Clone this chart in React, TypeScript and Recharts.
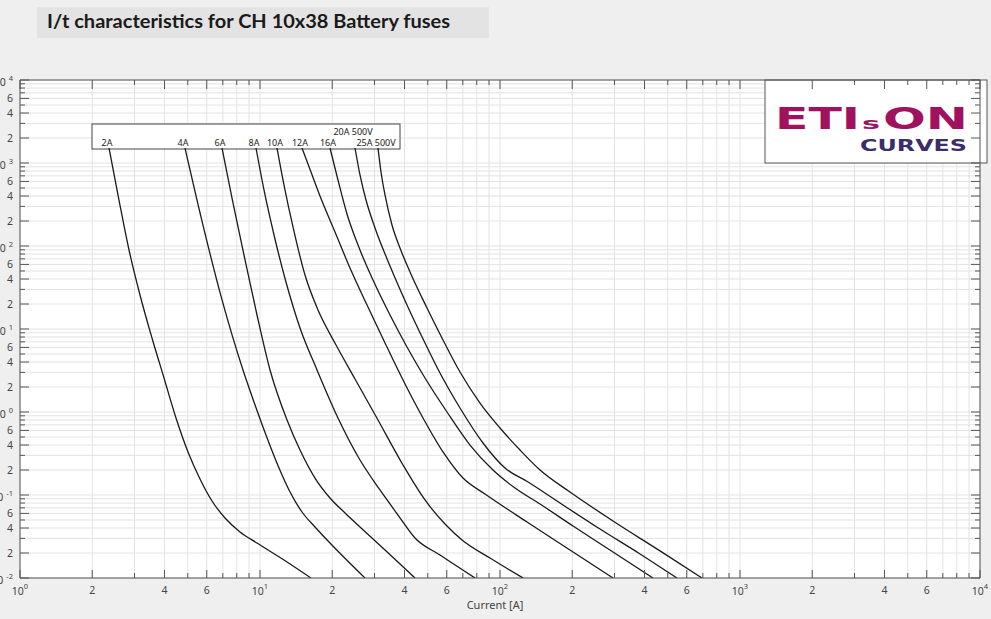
import React from 'react';
import { LineChart, Line, XAxis, YAxis, CartesianGrid, Customized } from 'recharts';

const W = 991;
const H = 619;

// Current [A] / time [s] pairs
const fuse2A: [number, number][] = [[2.349, 1516], [2.585, 358], [2.846, 89.5], [3.162, 25.7], [3.548, 7.79], [3.981, 2.57], [4.467, 0.847], [5.012, 0.33], [5.623, 0.156], [6.31, 0.0847], [7.148, 0.0528], [8.254, 0.0358], [9.716, 0.0264], [12.96, 0.0156], [16.31, 0.01]];
const fuse4A: [number, number][] = [[4.87, 1516], [5.464, 358], [6.947, 22.4], [8.494, 3.21], [9.441, 1.32], [10.59, 0.528], [12.0, 0.2115], [13.34, 0.1087], [14.96, 0.0624], [16.95, 0.0412], [19.57, 0.0264], [27.38, 0.01]];
const fuse6A: [number, number][] = [[6.947, 1516], [7.641, 379], [8.577, 77.9], [9.716, 14.75], [11.01, 3.21], [12.96, 0.801], [14.68, 0.348], [16.95, 0.16], [19.57, 0.092], [22.61, 0.0607], [26.1, 0.0412], [33.18, 0.0217], [44.25, 0.01]];
const fuse8A: [number, number][] = [[9.624, 1516], [10.39, 473], [11.44, 135.7], [12.83, 36.8], [14.68, 10.28], [17.28, 3.21], [21.13, 0.847], [26.1, 0.264], [31.62, 0.115], [37.58, 0.0574], [44.25, 0.0303], [56.23, 0.0189], [78.69, 0.01]];
const fuse10A: [number, number][] = [[11.77, 1516], [12.59, 543], [13.73, 169], [15.4, 44.7], [17.45, 16.9], [20.74, 6.41], [24.88, 2.5], [31.02, 0.801], [39.43, 0.23], [48.7, 0.0871], [59.0, 0.0447], [69.45, 0.0287], [90.85, 0.0174], [124.7, 0.01]];
const fuse12A: [number, number][] = [[14.96, 1516], [16.31, 779], [17.78, 400], [20.54, 147.5], [23.71, 54.3], [27.92, 19.46], [33.18, 6.78], [39.43, 2.43], [47.77, 0.847], [57.88, 0.33], [70.12, 0.16], [86.6, 0.1028], [129.6, 0.0473], [201.5, 0.0206], [295.7, 0.01]];
const fuse16A: [number, number][] = [[19.57, 1516], [21.13, 624], [23.04, 243], [26.1, 89.5], [29.57, 38.9], [34.81, 14.75], [40.97, 6.07], [48.7, 2.57], [60.14, 1.0], [74.99, 0.4], [93.48, 0.2], [115.5, 0.1214], [146.8, 0.0779], [201.5, 0.0423], [295.7, 0.0206], [433.9, 0.01]];
const fuse20A: [number, number][] = [[24.88, 1516], [26.1, 717], [27.65, 358], [30.15, 165], [34.81, 57.4], [40.97, 19.46], [48.7, 6.78], [56.23, 2.95], [68.13, 1.117], [84.96, 0.423], [104.9, 0.2115], [130.9, 0.1434], [177.8, 0.0801], [261.0, 0.0389], [383.1, 0.0195], [546.3, 0.01]];
const fuse25A: [number, number][] = [[31.02, 1516], [31.93, 779], [33.18, 412], [35.48, 179], [38.31, 94.6], [42.17, 48.6], [49.64, 17.9], [57.88, 7.37], [68.13, 3.03], [82.54, 1.28], [100, 0.6415], [121.2, 0.348], [146.8, 0.2], [195.7, 0.1087], [295.7, 0.0486], [464.2, 0.0212], [694.5, 0.01]];

const seriesNames = ['2A', '4A', '6A', '8A', '10A', '12A', '16A', '20A 500V', '25A 500V'];
const seriesData = [fuse2A, fuse4A, fuse6A, fuse8A, fuse10A, fuse12A, fuse16A, fuse20A, fuse25A];
const upperRowLabels = ['20A 500V'];

const xTicks = [1, 2, 3, 4, 5, 6, 7, 8, 9, 10, 20, 30, 40, 50, 60, 70, 80, 90, 100, 200, 300, 400, 500, 600, 700, 800, 900, 1000, 2000, 3000, 4000, 5000, 6000, 7000, 8000, 9000, 10000];
const yTicks = [0.01, 0.02, 0.03, 0.04, 0.05, 0.06, 0.07, 0.08, 0.09, 0.1, 0.2, 0.3, 0.4, 0.5, 0.6, 0.7, 0.8, 0.9, 1, 2, 3, 4, 5, 6, 7, 8, 9, 10, 20, 30, 40, 50, 60, 70, 80, 90, 100, 200, 300, 400, 500, 600, 700, 800, 900, 1000, 2000, 3000, 4000, 5000, 6000, 7000, 8000, 9000, 10000];
const labeledMantissas = [1, 2, 4, 6];

const title = 'I/t characteristics for CH 10x38 Battery fuses';
const xLabel = 'Current [A]';

const FONT = '"Noto Sans", "Open Sans", sans-serif';
const AXIS_COLOR = '#555555';
const TEXT_COLOR = '#444444';

function decompose(v: number) {
  const e = Math.floor(Math.log10(v) + 1e-9);
  const m = Math.round(v / Math.pow(10, e));
  return { e, m };
}

function XTickBottom(props: any) {
  const { x, y, payload } = props;
  const { e, m } = decompose(payload.value);
  const labeled = labeledMantissas.includes(m);
  const len = labeled ? 8 : 5;
  return (
    <g>
      <line x1={x} x2={x} y1={y} y2={y - len} stroke={AXIS_COLOR} strokeWidth={1} />
      {m === 1 ? (
        <text x={x} y={y + 17} textAnchor="middle" fontSize={10.5} fontFamily={FONT} fill={TEXT_COLOR}>
          10<tspan dy={-6} fontSize={7.5}>{String(e)}</tspan>
        </text>
      ) : labeled ? (
        <text x={x} y={y + 16} textAnchor="middle" fontSize={10.5} fontFamily={FONT} fill={TEXT_COLOR}>{String(m)}</text>
      ) : null}
    </g>
  );
}

function XTickTop(props: any) {
  const { x, y, payload } = props;
  const { m } = decompose(payload.value);
  const len = labeledMantissas.includes(m) ? 9 : 5;
  return <line x1={x} x2={x} y1={y} y2={y + len} stroke={AXIS_COLOR} strokeWidth={1} />;
}

function YTickLeft(props: any) {
  const { x, y, payload } = props;
  const { e, m } = decompose(payload.value);
  const labeled = labeledMantissas.includes(m);
  const len = labeled ? 9 : 5;
  return (
    <g>
      <line x1={x} x2={x + len} y1={y} y2={y} stroke={AXIS_COLOR} strokeWidth={1} />
      {m === 1 ? (
        <text x={13} y={y + 6} textAnchor="end" fontSize={10.5} fontFamily={FONT} fill={TEXT_COLOR}>
          10<tspan dx={3} dy={-5} fontSize={7.5}>{String(e)}</tspan>
        </text>
      ) : labeled ? (
        <text x={13} y={y + 4} textAnchor="end" fontSize={10.5} fontFamily={FONT} fill={TEXT_COLOR}>{String(m)}</text>
      ) : null}
    </g>
  );
}

function YTickRight(props: any) {
  const { x, y, payload } = props;
  const { m } = decompose(payload.value);
  const len = labeledMantissas.includes(m) ? 9 : 5;
  return <line x1={x} x2={x - len} y1={y} y2={y} stroke={AXIS_COLOR} strokeWidth={1} />;
}

function Decor() {
  return (
    <g>
      <rect x={37} y={7} width={452} height={31} fill="#e3e3e3" />
      <text x={47} y={28} fontSize={19} fontWeight="bold" fontFamily="Lato, sans-serif" fill="#1a1a1a" textLength={403} lengthAdjust="spacingAndGlyphs">{title}</text>
      <text x={495} y={609} textAnchor="middle" fontSize={11} fontFamily={FONT} fill={TEXT_COLOR}>{xLabel}</text>
      <rect x={92} y={124} width={308} height={25} fill="#ffffff" stroke="#444444" strokeWidth={1} />
      <rect x={765} y={80} width={222} height={83} fill="#ffffff" stroke="#555555" strokeWidth={1} />
      <text x={775} y={129} fontSize={31} fontWeight="bold" fontFamily="DejaVu Sans, sans-serif" fill="#a0125e" textLength={85} lengthAdjust="spacingAndGlyphs">ETI</text>
      <text x={862} y={129} fontSize={16} fontWeight="bold" fontFamily="DejaVu Sans, sans-serif" fill="#a0125e" textLength={18} lengthAdjust="spacingAndGlyphs">s</text>
      <text x={883} y={129} fontSize={31} fontWeight="bold" fontFamily="DejaVu Sans, sans-serif" fill="#a0125e" textLength={85} lengthAdjust="spacingAndGlyphs">ON</text>
      <text x={860} y={151} fontSize={15} fontWeight="bold" fontFamily="DejaVu Sans, sans-serif" fill="#3b2c6a" textLength={107} lengthAdjust="spacingAndGlyphs">CURVES</text>
    </g>
  );
}

function makeDot(name: string) {
  const upper = upperRowLabels.includes(name);
  return (p: any) => {
    if (p.index !== 0) return <g key={`d-${name}-${p.index}`} />;
    return (
      <text key={`l-${name}`} x={p.cx - 2} y={p.cy - (upper ? 13 : 2)} textAnchor="middle" fontSize={9} fontFamily={FONT} fill="#222222">{name}</text>
    );
  };
}

export default function App() {
  const series = seriesNames.map((name, k) => ({
    name,
    data: seriesData[k].map(([i, t]) => ({ i, t })),
  }));
  return (
    <div style={{ position: 'absolute', left: 0, top: 0, width: W, height: H, background: '#efefef' }}>
      <LineChart width={W} height={H} margin={{ top: 70, right: 0, bottom: 0, left: 0 }}>
        <CartesianGrid stroke="#e3e3e3" fill="#ffffff" fillOpacity={1} />
        <XAxis dataKey="i" type="number" scale="log" domain={[1, 10000]} ticks={xTicks} interval={0} allowDataOverflow height={41} tickSize={0} tickMargin={0} tickLine={false} axisLine={{ stroke: AXIS_COLOR }} tick={<XTickBottom />} />
        <XAxis xAxisId="top" orientation="top" dataKey="i" type="number" scale="log" domain={[1, 10000]} ticks={xTicks} interval={0} allowDataOverflow height={10} tickSize={0} tickMargin={0} tickLine={false} axisLine={{ stroke: AXIS_COLOR }} tick={<XTickTop />} />
        <YAxis dataKey="t" type="number" scale="log" domain={[0.01, 10000]} ticks={yTicks} interval={0} allowDataOverflow width={20} tickSize={0} tickMargin={0} tickLine={false} axisLine={{ stroke: AXIS_COLOR }} tick={<YTickLeft />} />
        <YAxis yAxisId="right" orientation="right" dataKey="t" type="number" scale="log" domain={[0.01, 10000]} ticks={yTicks} interval={0} allowDataOverflow width={11} tickSize={0} tickMargin={0} tickLine={false} axisLine={{ stroke: AXIS_COLOR }} tick={<YTickRight />} />
        <Customized component={Decor} />
        {series.map((s) => (
          <Line key={s.name} data={s.data} dataKey="t" type="monotone" stroke="#1a1a1a" strokeWidth={1.3} dot={makeDot(s.name)} activeDot={false} isAnimationActive={false} />
        ))}
      </LineChart>
    </div>
  );
}
